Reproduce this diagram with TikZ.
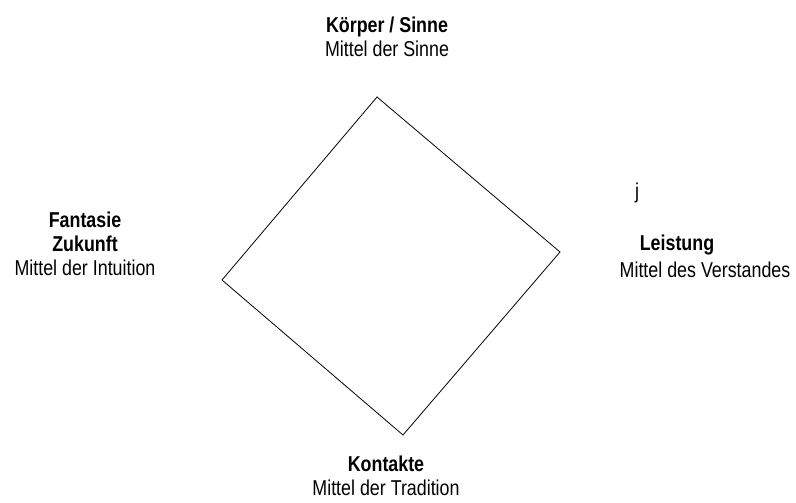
\documentclass[tikz,border=0pt]{standalone}
\usepackage{fontspec}
\setmainfont{Liberation Sans}[FakeStretch=0.83]

\begin{document}
\begin{tikzpicture}[x=1pt, y=-1pt, every node/.style={align=center, inner sep=0pt, font=\fontsize{21.5}{24}\selectfont}]
	\useasboundingbox (0, 0) rectangle (796, 503);
	% the square
	\coordinate (top) at (377, 97);
	\coordinate (right) at (560, 252);
	\coordinate (bottom) at (403, 435);
	\coordinate (left) at (222, 280);
	\draw [line width=0.8pt] (top) -- (right) -- (bottom) -- (left) -- cycle;
	% labels
	\node (koerper) at (387, 37) {\textbf{Körper / Sinne}\\Mittel der Sinne};
	\node (fantasie) at (85, 244) {\textbf{Fantasie}\\\textbf{Zukunft}\\Mittel der Intuition};
	\node (leistung) at (677, 245) {\textbf{Leistung}};
	\node (verstand) at (705, 270) {Mittel des Verstandes};
	\node (kontakte) at (386, 476) {\textbf{Kontakte}\\Mittel der Tradition};
	\node (j) at (637, 193) {j};
\end{tikzpicture}
\end{document}
